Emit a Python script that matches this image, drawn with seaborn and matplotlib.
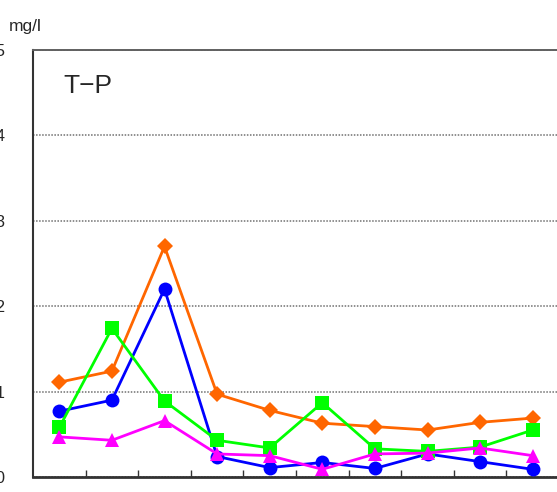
import matplotlib
matplotlib.use("Agg")
import matplotlib.pyplot as plt
import seaborn as sns
import pandas as pd

# Data (T-P, mg/l)
samples = list(range(1, 11))
series_names = ["A", "B", "C", "D"]
tp_a = [0.111, 0.124, 0.270, 0.097, 0.078, 0.063, 0.059, 0.055, 0.064, 0.069]  # orange diamonds
tp_b = [0.077, 0.090, 0.220, 0.024, 0.011, 0.017, 0.010, 0.027, 0.018, 0.009]  # blue circles
tp_c = [0.058, 0.174, 0.089, 0.043, 0.034, 0.087, 0.033, 0.030, 0.035, 0.055]  # green squares
tp_d = [0.047, 0.043, 0.066, 0.027, 0.025, 0.009, 0.027, 0.028, 0.034, 0.025]  # magenta triangles
y_ticks = [0.0, 0.1, 0.2, 0.3, 0.4, 0.5]

rows = []
for name, vals in zip(series_names, [tp_a, tp_b, tp_c, tp_d]):
    for i, v in enumerate(vals):
        rows.append({"pos": i, "site": name, "tp": v})
df = pd.DataFrame(rows)

sns.set_style("white")
plt.rcParams['font.family'] = ['Liberation Sans', 'DejaVu Sans']

palette = {"A": "#FF6600", "B": "#0000FF", "C": "#00FF00", "D": "#FF00FF"}
markers = {"A": "D", "B": "o", "C": "s", "D": "^"}
msize = {"A": 8.5, "B": 10, "C": 9.5, "D": 10.5}

fig = plt.figure(figsize=(5.57, 4.92), dpi=100)
ax = fig.add_axes([33 / 557, 15 / 492, 526 / 557, 427 / 492])

# one lineplot per series so each marker keeps its own size
for name in series_names:
    sub = df[df["site"] == name]
    sns.lineplot(data=sub, x="pos", y="tp", ax=ax, color=palette[name],
                 marker=markers[name], markersize=msize[name],
                 markeredgewidth=0, linewidth=2, legend=False, zorder=3)

ax.set_xlim(-0.5, 9.5)
ax.set_ylim(0, 0.5)
ax.set_yticks(y_ticks)
ax.set_yticklabels([f"{t:.1f}" for t in y_ticks], fontsize=12)
ax.tick_params(axis="y", left=False, length=0, pad=20)
ax.set_xticks([i + 0.5 for i in range(9)])
ax.set_xticklabels([])
ax.tick_params(axis="x", bottom=True, direction="in", length=5, width=1,
               color="#333333")
ax.set_xlabel("")
ax.set_ylabel("")

ax.yaxis.grid(True, color="#707070", linestyle=(0, (1, 1)), linewidth=1.1)
ax.set_axisbelow(True)

for side in ["left", "bottom"]:
    ax.spines[side].set_visible(True)
    ax.spines[side].set_color("#333333")
ax.spines["left"].set_linewidth(1.5)
ax.spines["bottom"].set_linewidth(2)
ax.spines["top"].set_color("#606060")
ax.spines["top"].set_linestyle((0, (1, 1)))
ax.spines["top"].set_linewidth(1.4)

ax.text(0.058, 0.915, "T\u2212P", transform=ax.transAxes, fontsize=19,
        ha="left", va="center")
fig.text(9 / 557, 1 - 27 / 492, "mg/l", fontsize=12.5, ha="left", va="center")

fig.savefig("out.png", dpi=100)
